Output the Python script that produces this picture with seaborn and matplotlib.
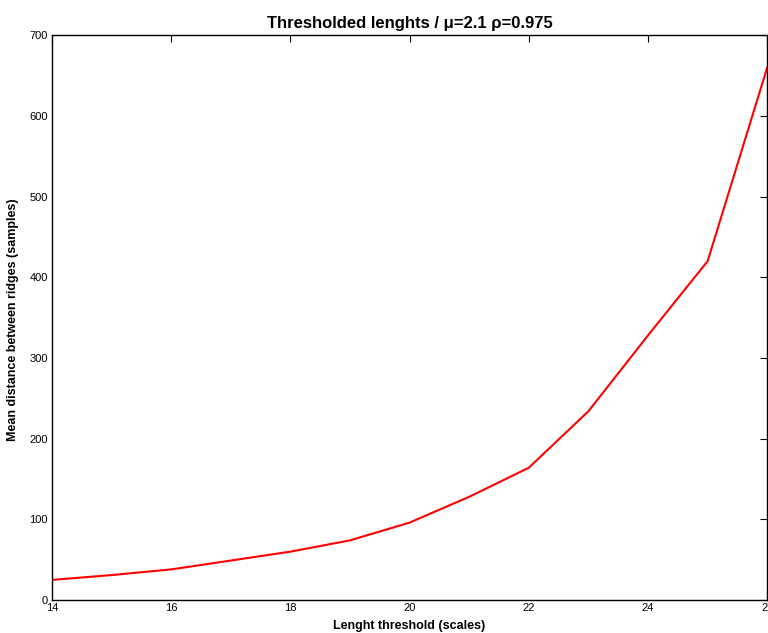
import matplotlib
matplotlib.use("Agg")
import matplotlib.pyplot as plt
import seaborn as sns
import pandas as pd

# Length thresholds (scales) and mean ridge spacing (samples)
thresholds = [14, 15, 16, 17, 18, 19, 20, 21, 22, 23, 24, 25, 26]
mean_distance = [25, 31, 38, 49, 60, 74, 96, 128, 164, 234, 328, 420, 660]

x_ticks = [14, 16, 18, 20, 22, 24, 26]
y_ticks = [0, 100, 200, 300, 400, 500, 600, 700]

sns.set_theme(style="white")
plt.rcParams["font.family"] = ["Liberation Sans", "DejaVu Sans"]
plt.rcParams.update({
    "xtick.direction": "in",
    "ytick.direction": "in",
    "xtick.top": True,
    "ytick.right": True,
    "axes.edgecolor": "black",
    "axes.linewidth": 1.0,
    "text.color": "black",
    "axes.labelcolor": "black",
    "axes.titlecolor": "black",
    "xtick.color": "black",
    "ytick.color": "black",
})

df = pd.DataFrame({"threshold": thresholds, "distance": mean_distance})

fig = plt.figure(figsize=(7.68, 6.33), dpi=100)
ax = fig.add_axes([0.0677, 0.052, 0.9313, 0.8925])

sns.lineplot(data=df, x="threshold", y="distance", color="#ff0000",
             linewidth=1.5, ax=ax)

ax.set_xlim(14, 26)
ax.set_ylim(0, 700)
ax.set_xticks(x_ticks)
ax.set_yticks(y_ticks)
ax.tick_params(axis="both", which="both", length=5, width=0.8,
               labelsize=8, colors="black", pad=3)
ax.tick_params(axis="x", pad=2)
for s in ax.spines.values():
    s.set_visible(True)
    s.set_color("black")

ax.set_xlabel("Lenght threshold (scales)", fontsize=9, fontweight="bold", labelpad=5)
ax.set_ylabel("Mean distance between ridges (samples)", fontsize=9,
              fontweight="bold")
ax.yaxis.set_label_coords(-0.046, 0.497)
ax.set_title("Thresholded lenghts / \u03bc=2.1 \u03c1=0.975", fontsize=12,
             fontweight="bold", pad=5)

fig.savefig("out.png", dpi=100)
